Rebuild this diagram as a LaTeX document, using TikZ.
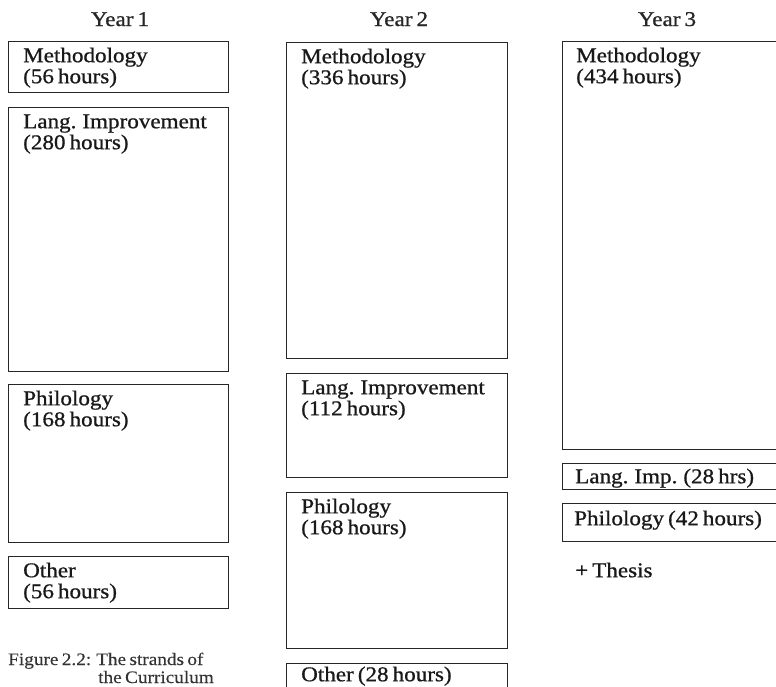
\documentclass[tikz,border=0pt]{standalone}
\usepackage{fontspec}
\setmainfont{Liberation Serif}[FakeStretch=1.1,FakeBold=0.8,WordSpace=0.7]
\newfontfamily\capfont{Liberation Serif}[FakeStretch=1.1,WordSpace=0.7,FakeBold=0.2]
\usetikzlibrary{positioning,calc}
\tikzset{
  box/.style={draw=black!85, line width=1.3pt, inner sep=0pt, anchor=north west},
  lbl/.style={anchor=north west, inner sep=0pt, align=left, text=black!90,
    font=\fontsize{21}{21}\selectfont},
  yr/.style={anchor=base, inner sep=0pt, text=black!85, font=\fontsize{21}{21}\selectfont\mdseries},
  captext/.style={anchor=base west, inner sep=0pt, text=black!80, font=\capfont\fontsize{17.5}{20}\selectfont}
}
\begin{document}
\begin{tikzpicture}[x=1pt,y=-1pt]
\useasboundingbox[fill=white] (0,0) rectangle (776,686);
% year titles
\node[yr] (y1) at (120,26) {Year 1};
\node[yr] (y2) at (399,26) {Year 2};
\node[yr] (y3) at (667,26) {Year 3};
% Year 1
\node[box, minimum width=220pt, minimum height=51pt] (a1) at (8,41) {};
\node[box, minimum width=220pt, minimum height=264pt] (a2) at (8,107) {};
\node[box, minimum width=220pt, minimum height=158pt] (a3) at (8,384) {};
\node[box, minimum width=220pt, minimum height=52pt] (a4) at (8,556) {};
\node[lbl] (ta1) at ([shift={(15,6.3)}]a1.north west) {\strut Methodology\\(56 hours)};
\node[lbl] (ta2) at ([shift={(15,6.3)}]a2.north west) {\strut Lang. Improvement\\(280 hours)};
\node[lbl] (ta3) at ([shift={(15,6.3)}]a3.north west) {\strut Philology\\(168 hours)};
\node[lbl] (ta4) at ([shift={(15,6.3)}]a4.north west) {\strut Other\\(56 hours)};
% Year 2
\node[box, minimum width=221pt, minimum height=316pt] (b1) at (286,42) {};
\node[box, minimum width=221pt, minimum height=104pt] (b2) at (286,373) {};
\node[box, minimum width=221pt, minimum height=156pt] (b3) at (286,492) {};
\node[box, minimum width=221pt, minimum height=30pt] (b4) at (286,663) {};
\node[lbl] (tb1) at ([shift={(15,6.3)}]b1.north west) {\strut Methodology\\(336 hours)};
\node[lbl] (tb2) at ([shift={(15,6.3)}]b2.north west) {\strut Lang. Improvement\\(112 hours)};
\node[lbl] (tb3) at ([shift={(15,6.3)}]b3.north west) {\strut Philology\\(168 hours)};
\node[lbl] (tb4) at ([shift={(15,3.3)}]b4.north west) {\strut Other (28 hours)};
% Year 3
\node[box, minimum width=221pt, minimum height=408pt] (c1) at (562,41) {};
\node[box, minimum width=221pt, minimum height=26pt] (c2) at (562,463) {};
\node[box, minimum width=221pt, minimum height=38pt] (c3) at (562,503) {};
\node[lbl] (tc1) at ([shift={(14,6.3)}]c1.north west) {\strut Methodology\\(434 hours)};
\node[lbl] (tc2) at ([shift={(13,5.3)}]c2.north west) {\strut Lang. Imp. (28 hrs)};
\node[lbl] (tc3) at ([shift={(12,7.3)}]c3.north west) {\strut Philology (42 hours)};
\node[lbl] (th) at (575,562.3) {\strut + Thesis};
% caption
\node[captext] (f1) at (8,665) {Figure 2.2: The strands of};
\node[captext] (f2) at (98,683) {the Curriculum};
\end{tikzpicture}
\end{document}
